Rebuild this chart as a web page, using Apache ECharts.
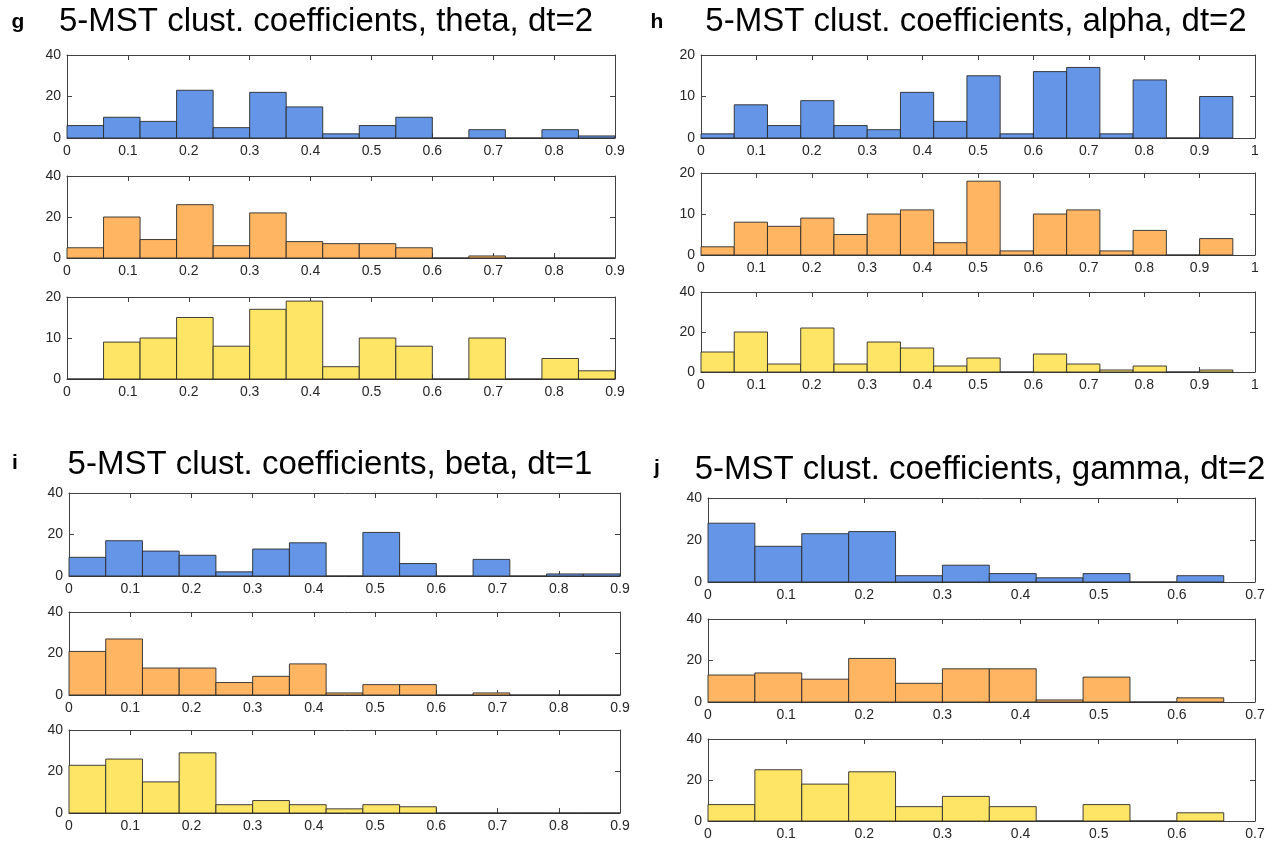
<!DOCTYPE html>
<html>
<head>
<meta charset="utf-8">
<script src="https://cdn.jsdelivr.net/npm/echarts@6/dist/echarts.min.js"></script>
<style>
  html, body { margin: 0; padding: 0; background: #fff; }
  #chart { width: 1284px; height: 841px; }
</style>
</head>
<body>
<div id="chart"></div>
<script>
// Histogram counts per bin (bin width 0.06, starting at 0)
const BIN_WIDTH = 0.06;

const thetaBlue   = [6, 10, 8, 23, 5, 22, 15, 2, 6, 10, 0, 4, 0, 4, 1];
const thetaOrange = [5, 20, 9, 26, 6, 22, 8, 7, 7, 5, 0, 1, 0, 0, 0];
const thetaYellow = [0, 9, 10, 15, 8, 17, 19, 3, 10, 8, 0, 10, 0, 5, 2];

const alphaBlue   = [1, 8, 3, 9, 3, 2, 11, 4, 15, 1, 16, 17, 1, 14, 0, 10];
const alphaOrange = [2, 8, 7, 9, 5, 10, 11, 3, 18, 1, 10, 11, 1, 6, 0, 4];
const alphaYellow = [10, 20, 4, 22, 4, 15, 12, 3, 7, 0, 9, 4, 1, 3, 0, 1];

const betaBlue    = [9, 17, 12, 10, 2, 13, 16, 0, 21, 6, 0, 8, 0, 1, 1];
const betaOrange  = [21, 27, 13, 13, 6, 9, 15, 1, 5, 5, 0, 1, 0, 0, 0];
const betaYellow  = [23, 26, 15, 29, 4, 6, 4, 2, 4, 3, 0, 0, 0, 0, 0];

const gammaBlue   = [28, 17, 23, 24, 3, 8, 4, 2, 4, 0, 3];
const gammaOrange = [13, 14, 11, 21, 9, 16, 16, 1, 12, 0, 2];
const gammaYellow = [8, 25, 18, 24, 7, 12, 7, 0, 8, 0, 4];

// Axis ranges
const xMaxTheta = 0.9, xMaxAlpha = 1, xMaxBeta = 0.9, xMaxGamma = 0.7;
const yMaxTheta = [40, 40, 20];
const yMaxAlpha = [20, 20, 40];
const yMaxBeta  = [40, 40, 40];
const yMaxGamma = [40, 40, 40];

// Titles and panel letters
const titles  = [
  '5-MST clust. coefficients, theta, dt=2',
  '5-MST clust. coefficients, alpha, dt=2',
  '5-MST clust. coefficients, beta, dt=1',
  '5-MST clust. coefficients, gamma, dt=2'
];
const letters = ['g', 'h', 'i', 'j'];

const COLORS = ['#6495e6', '#ffb562', '#ffe566'];

// Panel layout (pixels)
const panels = [
  { data: [thetaBlue, thetaOrange, thetaYellow], xMax: xMaxTheta, yMax: yMaxTheta,
    left: 67, width: 548, tops: [55, 176, 297], heights: [83, 82, 82],
    title: { x: 326, y: 22 }, letter: { x: 18, y: 22 } },
  { data: [alphaBlue, alphaOrange, alphaYellow], xMax: xMaxAlpha, yMax: yMaxAlpha,
    left: 701, width: 554, tops: [55, 173, 292], heights: [83, 82, 80],
    title: { x: 976, y: 22 }, letter: { x: 657, y: 22 } },
  { data: [betaBlue, betaOrange, betaYellow], xMax: xMaxBeta, yMax: yMaxBeta,
    left: 69, width: 551, tops: [493, 612, 730], heights: [83, 83, 83],
    title: { x: 330, y: 465 }, letter: { x: 15, y: 463 } },
  { data: [gammaBlue, gammaOrange, gammaYellow], xMax: xMaxGamma, yMax: yMaxGamma,
    left: 708, width: 547, tops: [498, 619, 739], heights: [84, 83, 84],
    title: { x: 980, y: 470 }, letter: { x: 657, y: 468 } }
];

const AXIS_COLOR = '#404040';
const LABEL_COLOR = '#262626';
const FONT = 'Liberation Sans, Arial, Helvetica, sans-serif';

const grid = [], xAxis = [], yAxis = [], series = [], graphic = [];

panels.forEach((p, pi) => {
  graphic.push({
    type: 'text', x: p.title.x, y: p.title.y,
    style: { text: titles[pi], fontSize: 33, fontFamily: FONT, fill: '#000',
             textAlign: 'center', textVerticalAlign: 'middle' }
  });
  graphic.push({
    type: 'text', x: p.letter.x, y: p.letter.y,
    style: { text: letters[pi], fontSize: 21, fontWeight: 'bold', fontFamily: FONT, fill: '#000',
             textAlign: 'center', textVerticalAlign: 'middle' }
  });

  p.data.forEach((counts, si) => {
    const gi = grid.length;
    grid.push({ left: p.left, top: p.tops[si], width: p.width, height: p.heights[si],
                show: true, backgroundColor: '#fff', borderWidth: 0 });
    const yMax = p.yMax[si];
    const common = { min: 0, interval: 0.1, max: p.xMax, gridIndex: gi, type: 'value',
                     splitLine: { show: false } };
    xAxis.push(Object.assign({}, common, {
      position: 'bottom',
      axisLine: { show: true, onZero: false, lineStyle: { color: AXIS_COLOR, width: 1 } },
      axisTick: { show: true, inside: true, length: 5, lineStyle: { color: AXIS_COLOR } },
      axisLabel: { show: true, color: LABEL_COLOR, fontSize: 14, fontFamily: FONT, margin: 6,
                   showMinLabel: true, showMaxLabel: true }
    }));
    xAxis.push(Object.assign({}, common, {
      position: 'top',
      axisLine: { show: true, onZero: false, lineStyle: { color: AXIS_COLOR, width: 1 } },
      axisTick: { show: true, inside: true, length: 5, lineStyle: { color: AXIS_COLOR } },
      axisLabel: { show: false }
    }));
    const yCommon = { type: 'value', min: 0, max: yMax, interval: yMax / 2, gridIndex: gi,
                      splitLine: { show: false } };
    yAxis.push(Object.assign({}, yCommon, {
      position: 'left',
      axisLine: { show: true, onZero: false, lineStyle: { color: AXIS_COLOR, width: 1 } },
      axisTick: { show: true, inside: true, length: 5, lineStyle: { color: AXIS_COLOR } },
      axisLabel: { show: true, color: LABEL_COLOR, fontSize: 14, fontFamily: FONT, margin: 6 }
    }));
    yAxis.push(Object.assign({}, yCommon, {
      position: 'right',
      axisLine: { show: true, onZero: false, lineStyle: { color: AXIS_COLOR, width: 1 } },
      axisTick: { show: true, inside: true, length: 5, lineStyle: { color: AXIS_COLOR } },
      axisLabel: { show: false }
    }));

    const color = COLORS[si];
    series.push({
      type: 'custom',
      xAxisIndex: gi * 2,
      yAxisIndex: gi * 2,
      z: 1,
      silent: true,
      data: counts.map((c, i) => [i * BIN_WIDTH, (i + 1) * BIN_WIDTH, c]),
      encode: { x: [0, 1], y: 2 },
      renderItem: function (params, api) {
        const p0 = api.coord([api.value(0), 0]);
        const p1 = api.coord([api.value(1), api.value(2)]);
        return {
          type: 'rect',
          shape: { x: p0[0], y: p1[1], width: p1[0] - p0[0], height: p0[1] - p1[1] },
          style: { fill: color, stroke: '#2a2a2a', lineWidth: 0.9 }
        };
      }
    });
  });
});

const chart = echarts.init(document.getElementById('chart'), null, { renderer: 'canvas' });
chart.setOption({
  backgroundColor: '#fff',
  animation: false,
  grid, xAxis, yAxis, series, graphic
});
</script>
</body>
</html>
